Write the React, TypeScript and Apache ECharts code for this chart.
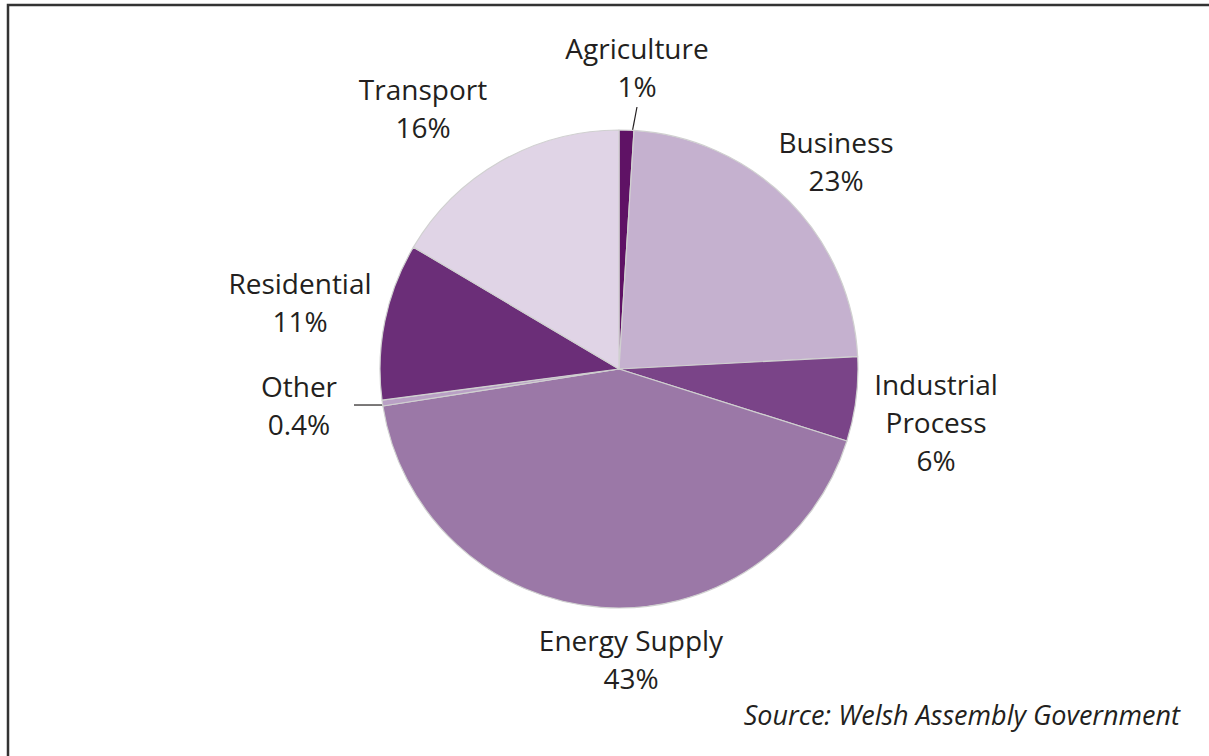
import React, { useEffect, useRef } from "react";
import * as echarts from "echarts";

const categories = ["Agriculture", "Business", "Industrial Process", "Energy Supply", "Other", "Residential", "Transport"];
const labelNames = ["Agriculture", "Business", "Industrial\nProcess", "Energy Supply", "Other", "Residential", "Transport"];
// printed percentages
const labelPct = ["1%", "23%", "6%", "43%", "0.4%", "11%", "16%"];
const values = [1.0, 23.2, 5.7, 42.7, 0.4, 10.6, 16.5];
const colors = ["#5f1265", "#c5b1cf", "#7a4488", "#9b78a7", "#b9a0c5", "#6b2e78", "#e0d4e6"];
const showLine = [true, false, false, false, true, false, false];
// label anchor positions (centre of each label block)
const labelPos: [number, number][] = [
  [637, 67],
  [836, 161],
  [936, 422],
  [631, 659],
  [299, 405],
  [300, 302],
  [423, 108],
];
const sourceText = "Source: Welsh Assembly Government";

const CX = 619;
const CY = 369;
const R = 239;

export default function App() {
  const ref = useRef<HTMLDivElement>(null);
  useEffect(() => {
    document.body.style.margin = "0";
    const chart = echarts.init(ref.current!, null, { renderer: "svg" });
    const font = "'Open Sans', 'Noto Sans', sans-serif";
    const total = values.reduce((a, b) => a + b, 0);
    const midAngle = (i: number) => {
      let cum = 0;
      for (let k = 0; k < i; k++) cum += values[k];
      const frac = (cum + values[i] / 2) / total;
      return frac * Math.PI * 2; // clockwise from top
    };
    const pointAt = (i: number, r: number): [number, number] => {
      const a = midAngle(i);
      return [CX + r * Math.sin(a), CY - r * Math.cos(a)];
    };
    chart.setOption({
      animation: false,
      backgroundColor: "#ffffff",
      graphic: [
        {
          type: "rect",
          shape: { x: 8, y: 5, width: 1400, height: 1000 },
          style: { fill: "none", stroke: "#333333", lineWidth: 2.5 },
          silent: true,
        },
        {
          type: "text",
          right: 29,
          top: 701,
          style: {
            text: sourceText,
            font: `italic 27px ${font}`,
            fill: "#231f20",
          },
        },
      ],
      series: [
        {
          type: "pie",
          center: [CX, CY],
          radius: R,
          startAngle: 90,
          clockwise: true,
          avoidLabelOverlap: false,
          itemStyle: { borderColor: "#d0d0d0", borderWidth: 1.2 },
          label: {
            position: "outside",
            color: "#231f20",
            fontFamily: font,
            fontSize: 28,
            lineHeight: 38,
            align: "center",
            formatter: (p: any) => `${labelNames[p.dataIndex]}\n${labelPct[p.dataIndex]}`,
          },
          labelLine: { show: false },
          labelLayout: (p: any) => {
            const i = p.dataIndex;
            const [x, y] = labelPos[i];
            const out: any = { x, y, align: "center", verticalAlign: "middle" };
            if (i === 0) {
              const inner = pointAt(i, R - 13);
              out.labelLinePoints = [
                [x, p.labelRect.y + p.labelRect.height + 7 > 0 ? y + 40 : y + 40],
                [inner[0] + 4, inner[1]],
              ];
            } else if (i === 4) {
              const edge = pointAt(i, R);
              out.labelLinePoints = [
                [x + 55, edge[1] + 2],
                [edge[0] + 1, edge[1] + 2],
              ];
            }
            return out;
          },
          data: categories.map((c, i) => ({
            name: c,
            value: values[i],
            itemStyle: { color: colors[i] },
            labelLine: {
              show: showLine[i],
              lineStyle: { color: "#231f20", width: 1.2 },
              length: 15,
              length2: 0,
            },
          })),
        },
      ],
    });
    return () => chart.dispose();
  }, []);
  return <div ref={ref} style={{ width: 1209, height: 756 }} />;
}
